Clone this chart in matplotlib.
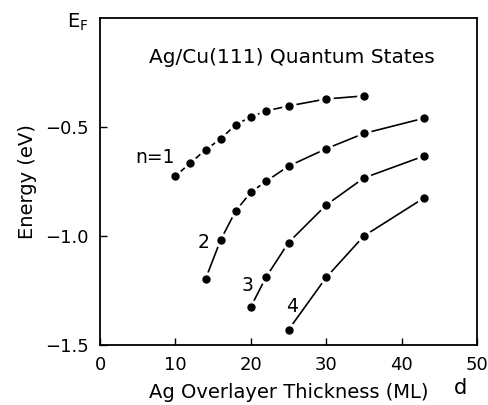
import matplotlib
matplotlib.use("Agg")
import matplotlib.pyplot as plt

# Data (thickness in ML, energy in eV)
x_n1 = [10, 12, 14, 16, 18, 20, 22, 25, 30, 35]
e_n1 = [-0.725, -0.665, -0.605, -0.555, -0.49, -0.454, -0.427, -0.404, -0.372, -0.358]
x_n2 = [14, 16, 18, 20, 22, 25, 30, 35, 43]
e_n2 = [-1.197, -1.018, -0.885, -0.80, -0.75, -0.68, -0.60, -0.53, -0.46]
x_n3 = [20, 22, 25, 30, 35, 43]
e_n3 = [-1.325, -1.19, -1.03, -0.858, -0.734, -0.633]
x_n4 = [25, 30, 35, 43]
e_n4 = [-1.43, -1.19, -1.00, -0.825]

labels = ["n=1", "2", "3", "4"]
label_pos = [(7.3, -0.64), (13.7, -1.03), (19.6, -1.225), (25.5, -1.325)]

xticks = [0, 10, 20, 30, 40, 50]
yticks = [-0.5, -1.0, -1.5]
ytick_labels = ["\u22120.5", "\u22121.0", "\u22121.5"]

plt.rcParams['font.family'] = ['DejaVu Sans']

fig = plt.figure(figsize=(4.89, 4.05), dpi=100)
ax = fig.add_axes([0.2045, 0.148, 0.771, 0.808])

for xs, es in [(x_n1, e_n1), (x_n2, e_n2), (x_n3, e_n3), (x_n4, e_n4)]:
    ax.plot(xs, es, color='black', lw=1.2, marker='o', markersize=5.5,
            markerfacecolor='black', markeredgecolor='white', markeredgewidth=5.0,
            zorder=3)
    ax.plot(xs, es, linestyle='none', marker='o', markersize=5.0,
            markerfacecolor='black', markeredgecolor='black', zorder=4)

for t, (lx, ly) in zip(labels, label_pos):
    ax.text(lx, ly, t, fontsize=13.5, ha='center', va='center')

ax.text(25.5, -0.18, "Ag/Cu(111) Quantum States", fontsize=14.5, ha='center', va='center')

ax.set_xlim(0, 50)
ax.set_ylim(-1.5, 0)
ax.set_xticks(xticks)
ax.set_yticks(yticks)
ax.set_yticklabels(ytick_labels)
ax.tick_params(direction='in', length=5, width=1, labelsize=13, pad=8)
for s in ax.spines.values():
    s.set_linewidth(1.3)

ax.set_xlabel("Ag Overlayer Thickness (ML)", fontsize=14, labelpad=6)
ax.set_ylabel("Energy (eV)", fontsize=14, labelpad=6)
ax.text(0.955, -0.13, "d", transform=ax.transAxes, fontsize=15, ha='center', va='center')
ax.text(-0.06, 0.985, r"$\mathregular{E_F}$", transform=ax.transAxes, fontsize=14,
        ha='center', va='center')

fig.savefig("out.png", dpi=100)
